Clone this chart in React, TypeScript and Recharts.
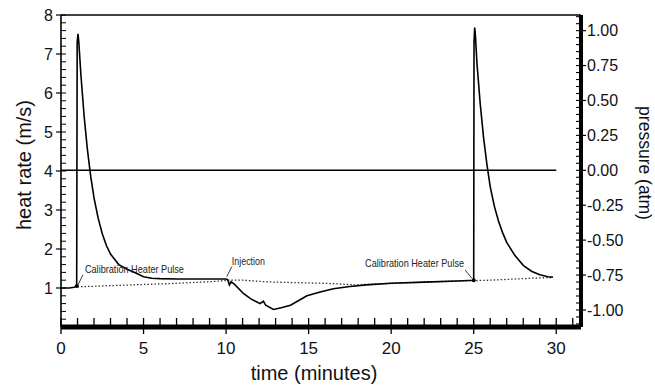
import { ComposedChart, Line, XAxis, YAxis, ReferenceDot, ReferenceLine, Label } from "recharts";

// heat rate trace (minutes, m/s)
const heatTime = [
  0, 0.5, 0.8, 0.95, 0.98, 1.03, 1.08, 1.2, 1.4, 1.6, 1.8, 2.0, 2.25, 2.5, 2.75, 3.0, 3.5, 4.0, 4.5, 5.0,
  5.5, 6, 7, 8, 9, 10, 10.1, 10.2, 10.3, 10.5, 11.05, 11.5, 12.06, 12.26, 12.4, 12.87, 13.4, 13.9, 14.4,
  14.9, 15.7, 16.5, 17.5, 18.5, 20, 22, 24, 25.0, 25.02, 25.06, 25.1, 25.2, 25.4, 25.6, 25.8, 26.0, 26.25,
  26.5, 26.75, 27.0, 27.5, 28, 28.5, 29, 29.5, 29.8,
];
const heatRate = [
  1.0, 1.0, 1.02, 1.05, 7.3, 7.52, 7.3, 6.5, 5.41, 4.55, 3.86, 3.31, 2.79, 2.39, 2.09, 1.87, 1.6, 1.48, 1.39, 1.29,
  1.25, 1.24, 1.23, 1.23, 1.23, 1.23, 1.21, 1.08, 1.16, 1.1, 0.86, 0.72, 0.6, 0.66, 0.56, 0.45, 0.5, 0.56, 0.68,
  0.8, 0.9, 0.98, 1.04, 1.08, 1.12, 1.15, 1.18, 1.2, 7.3, 7.68, 7.5, 6.75, 5.7, 4.85, 4.17, 3.6, 3.1,
  2.72, 2.42, 2.17, 1.83, 1.58, 1.43, 1.34, 1.29, 1.28,
];

// dotted baseline
const baseTime = [1, 3, 5, 7, 9, 10.2, 11, 12, 13, 14, 15, 16, 17, 17.8, 20, 22, 24, 25, 26, 27, 28, 29, 29.8];
const baseRate = [1.03, 1.06, 1.09, 1.12, 1.16, 1.2, 1.2, 1.17, 1.15, 1.14, 1.13, 1.12, 1.1, 1.08, 1.12, 1.15, 1.18, 1.19, 1.2, 1.22, 1.24, 1.26, 1.27];

// pressure trace (atm)
const pressureTime = [0, 10, 20, 30];
const pressureValue = [0, 0, 0, 0];

// every tick position; labelled ones are every 5 min, every 1 m/s, every 0.25 atm
const minuteTicks = Array.from({ length: 32 }, (_, i) => i);
const heatTicks = Array.from({ length: 41 }, (_, i) => i / 5);
const pressureTicks = Array.from({ length: 45 }, (_, i) => -1.1 + i * 0.05);

const notes = [
  { text: "Calibration Heater Pulse", t: 1.45, h: 1.38, from: [1.33, 1.34], to: [1.03, 1.08] },
  { text: "Injection", t: 10.35, h: 1.59, from: [10.35, 1.55], to: [10.04, 1.29] },
  { text: "Calibration Heater Pulse", t: 18.42, h: 1.54, from: [24.48, 1.46], to: [24.89, 1.25] },
];
const pulseStarts = [
  { t: 0.96, h: 1.05 },
  { t: 25.0, h: 1.2 },
];

const heat = heatTime.map((t, i) => ({ t, h: heatRate[i] }));
const baseline = baseTime.map((t, i) => ({ t, h: baseRate[i] }));
const pressure = pressureTime.map((t, i) => ({ t, p: pressureValue[i] }));

const font = "'Liberation Sans', Arial, Helvetica, sans-serif";
const narrow = "'Liberation Sans Narrow', 'Arial Narrow', 'Liberation Sans', sans-serif";
const noteWidth: Record<string, number> = { "Calibration Heater Pulse": 99, Injection: 33 };

const X_MAX = 31.5;
const H_DOMAIN = [0, 8];
const P_DOMAIN = [-1.122, 1.112];

const near = (a: number, b: number) => Math.abs(a - b) < 1e-6;

// tick renderers: draw the tick marks themselves, label only the major ones
const TimeTick = (p: any) => {
  const v = p.payload.value;
  const major = near(v % 5, 0) && v <= 30;
  return (
    <g>
      <line x1={p.x} y1={p.y} x2={p.x} y2={p.y - 9} stroke="#000" strokeWidth={1.3} />
      {major && <line x1={p.x} y1={p.y} x2={p.x} y2={p.y + 7} stroke="#000" strokeWidth={1.3} />}
      {major && (
        <text x={p.x} y={p.y + 27} textAnchor="middle" fontSize={17} fontFamily={font} fill="#111">
          {v}
        </text>
      )}
    </g>
  );
};

const HeatTick = (p: any) => {
  const v = p.payload.value;
  const major = near(v, Math.round(v)) && v >= 1;
  return (
    <g>
      <line x1={p.x} y1={p.y} x2={p.x + 5} y2={p.y} stroke="#000" strokeWidth={1} />
      {major && <line x1={p.x} y1={p.y} x2={p.x - 5} y2={p.y} stroke="#000" strokeWidth={1.2} />}
      {major && (
        <text x={p.x - 8} y={p.y} dy="0.36em" textAnchor="end" fontSize={16} fontFamily={font} fill="#111">
          {Math.round(v)}
        </text>
      )}
    </g>
  );
};

const PressureTick = (p: any) => {
  const v = p.payload.value;
  const major = near(v * 4, Math.round(v * 4)) && Math.abs(v) <= 1.001;
  return (
    <g>
      <line x1={p.x} y1={p.y} x2={p.x - 5} y2={p.y} stroke="#000" strokeWidth={1.1} />
      {major && <line x1={p.x} y1={p.y} x2={p.x + 5} y2={p.y} stroke="#000" strokeWidth={1.2} />}
      {major && (
        <text x={p.x + 6} y={p.y} dy="0.36em" textAnchor="start" fontSize={16} fontFamily={font} fill="#111">
          {(Math.round(v * 100) / 100).toFixed(2)}
        </text>
      )}
    </g>
  );
};

export default function App() {
  return (
    <div style={{ position: "absolute", left: 0, top: 0, width: 655, height: 386, background: "#fff" }}>
      <ComposedChart width={655} height={386} margin={{ top: 15, right: 8, bottom: 9, left: 5 }}>
        <XAxis
          xAxisId="t"
          type="number"
          dataKey="t"
          domain={[0, X_MAX]}
          allowDataOverflow
          ticks={minuteTicks}
          interval={0}
          height={50}
          tickSize={0}
          tickMargin={0}
          tickLine={false}
          axisLine={{ stroke: "#000", strokeWidth: 5 }}
          tick={TimeTick}
        >
          <Label
            content={() => (
              <text x={314} y={380} textAnchor="middle" fontSize={20} fontFamily={font} fill="#111">
                time (minutes)
              </text>
            )}
          />
        </XAxis>
        <YAxis
          yAxisId="h"
          type="number"
          domain={H_DOMAIN}
          allowDataOverflow
          ticks={heatTicks}
          interval={0}
          width={56}
          tickSize={0}
          tickMargin={0}
          tickLine={false}
          axisLine={{ stroke: "#000", strokeWidth: 1.6 }}
          tick={HeatTick}
        >
          <Label
            content={() => (
              <text
                x={31}
                y={165}
                transform="rotate(-90, 31, 165)"
                textAnchor="middle"
                fontSize={20}
                fontFamily={font}
                fill="#111"
              >
                heat rate (m/s)
              </text>
            )}
          />
        </YAxis>
        <YAxis
          yAxisId="p"
          orientation="right"
          type="number"
          domain={P_DOMAIN}
          allowDataOverflow
          ticks={pressureTicks}
          interval={0}
          width={66}
          tickSize={0}
          tickMargin={0}
          tickLine={false}
          axisLine={{ stroke: "#000", strokeWidth: 4 }}
          tick={PressureTick}
        >
          <Label
            content={() => (
              <text
                x={639}
                y={163}
                transform="rotate(90, 639, 163)"
                textAnchor="middle"
                fontSize={17.5}
                fontFamily={font}
                fill="#111"
              >
                pressure (atm)
              </text>
            )}
          />
        </YAxis>

        {/* frame top */}
        <ReferenceLine xAxisId="t" yAxisId="h" y={8} stroke="#000" strokeWidth={1.3} ifOverflow="visible" />

        <Line
          xAxisId="t"
          yAxisId="p"
          data={pressure}
          dataKey="p"
          type="linear"
          stroke="#000"
          strokeWidth={1.6}
          dot={false}
          isAnimationActive={false}
        />
        <Line
          xAxisId="t"
          yAxisId="h"
          data={baseline}
          dataKey="h"
          type="linear"
          stroke="#333"
          strokeWidth={1.3}
          strokeDasharray="1.5 2"
          dot={false}
          isAnimationActive={false}
        />
        <Line
          xAxisId="t"
          yAxisId="h"
          data={heat}
          dataKey="h"
          type="linear"
          stroke="#000"
          strokeWidth={1.6}
          dot={false}
          isAnimationActive={false}
        />

        {notes.map((n, i) => (
          <ReferenceLine
            key={`l${i}`}
            xAxisId="t"
            yAxisId="h"
            segment={[
              { x: n.from[0], y: n.from[1] },
              { x: n.to[0], y: n.to[1] },
            ]}
            stroke="#222"
            strokeWidth={0.9}
            ifOverflow="visible"
          />
        ))}
        {notes.map((n, i) => (
          <ReferenceDot
            key={`n${i}`}
            xAxisId="t"
            yAxisId="h"
            x={n.t}
            y={n.h}
            r={0}
            ifOverflow="visible"
            shape={(p: any) => (
              <text
                x={p.cx}
                y={p.cy}
                fontSize={11}
                fontFamily={narrow}
                fill="#222"
                textLength={noteWidth[n.text]}
                lengthAdjust="spacingAndGlyphs"
              >
                {n.text}
              </text>
            )}
          />
        ))}
        {pulseStarts.map((d, i) => (
          <ReferenceDot
            key={`d${i}`}
            xAxisId="t"
            yAxisId="h"
            x={d.t}
            y={d.h}
            r={2}
            fill="#000"
            stroke="none"
            ifOverflow="visible"
          />
        ))}
      </ComposedChart>
    </div>
  );
}
